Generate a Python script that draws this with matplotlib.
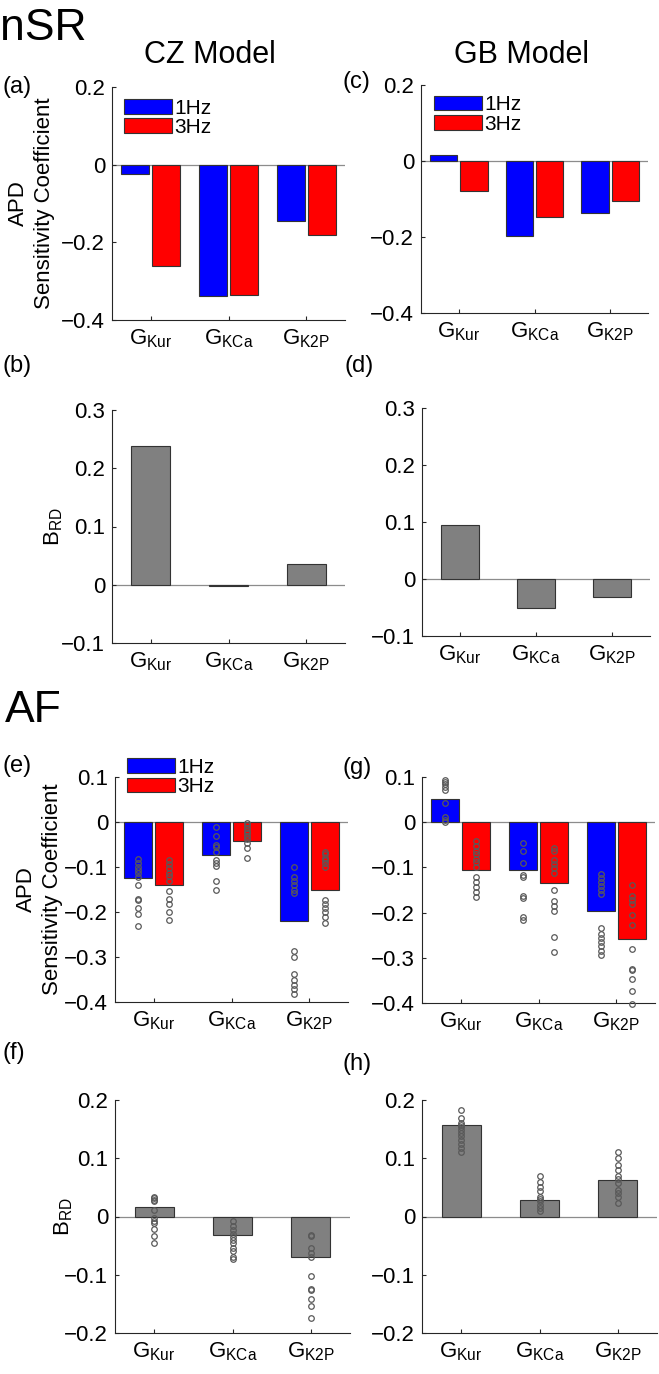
import numpy as np
import matplotlib
matplotlib.use('Agg')
import matplotlib.pyplot as plt

plt.rcParams['font.family'] = ['Liberation Sans', 'DejaVu Sans']
plt.rcParams['mathtext.fontset'] = 'custom'
plt.rcParams['mathtext.rm'] = 'Liberation Sans'
plt.rcParams['mathtext.it'] = 'Liberation Sans:italic'
plt.rcParams['axes.unicode_minus'] = True

# 数据
categories = [r'$\mathregular{G_{Kur}}$', r'$\mathregular{G_{KCa}}$', r'$\mathregular{G_{K2P}}$']
freq_labels = ['1Hz', '3Hz']

# nSR
nsr_cz_1hz = [-0.024, -0.337, -0.144]
nsr_cz_3hz = [-0.262, -0.335, -0.182]
nsr_gb_1hz = [0.016, -0.198, -0.138]
nsr_gb_3hz = [-0.079, -0.148, -0.106]
nsr_cz_brd = [0.238, -0.003, 0.035]
nsr_gb_brd = [0.094, -0.051, -0.031]

# AF (均值)
af_cz_1hz = [-0.125, -0.074, -0.219]
af_cz_3hz = [-0.141, -0.043, -0.151]
af_gb_1hz = [0.051, -0.106, -0.197]
af_gb_3hz = [-0.105, -0.134, -0.259]
af_cz_brd = [0.016, -0.032, -0.070]
af_gb_brd = [0.157, 0.029, 0.063]

# AF (个体点)
af_cz_1hz_pts = [
    [-0.083, -0.090, -0.099, -0.107, -0.114, -0.123, -0.139, -0.171, -0.174, -0.190, -0.205, -0.230],
    [-0.011, -0.031, -0.050, -0.056, -0.067, -0.085, -0.091, -0.098, -0.132, -0.150],
    [-0.100, -0.122, -0.130, -0.141, -0.150, -0.158, -0.287, -0.300, -0.338, -0.350, -0.362, -0.372, -0.383],
]
af_cz_3hz_pts = [
    [-0.084, -0.094, -0.102, -0.113, -0.121, -0.130, -0.153, -0.170, -0.182, -0.200, -0.218],
    [-0.002, -0.007, -0.013, -0.019, -0.024, -0.030, -0.037, -0.046, -0.058, -0.079],
    [-0.066, -0.072, -0.079, -0.084, -0.092, -0.099, -0.173, -0.183, -0.192, -0.201, -0.212, -0.224],
]
af_gb_1hz_pts = [
    [0.094, 0.089, 0.084, 0.078, 0.072, 0.042, 0.011, 0.005, 0.001],
    [-0.047, -0.064, -0.091, -0.116, -0.122, -0.163, -0.167, -0.210, -0.217],
    [-0.115, -0.124, -0.133, -0.142, -0.150, -0.159, -0.235, -0.247, -0.256, -0.265, -0.274, -0.284, -0.293],
]
af_gb_3hz_pts = [
    [-0.041, -0.052, -0.063, -0.070, -0.081, -0.089, -0.100, -0.122, -0.133, -0.143, -0.154, -0.165],
    [-0.056, -0.063, -0.084, -0.093, -0.101, -0.113, -0.150, -0.174, -0.185, -0.196, -0.254, -0.287],
    [-0.139, -0.163, -0.173, -0.181, -0.206, -0.228, -0.280, -0.324, -0.327, -0.347, -0.374, -0.402],
]
af_cz_brd_pts = [
    [0.034, 0.031, 0.029, 0.026, 0.011, -0.003, -0.007, -0.011, -0.022, -0.033, -0.046],
    [-0.007, -0.016, -0.023, -0.030, -0.035, -0.040, -0.045, -0.054, -0.059, -0.069, -0.073],
    [-0.031, -0.034, -0.054, -0.063, -0.070, -0.102, -0.125, -0.127, -0.142, -0.154, -0.174],
]
af_gb_brd_pts = [
    [0.182, 0.169, 0.161, 0.157, 0.153, 0.149, 0.144, 0.138, 0.131, 0.124, 0.117, 0.110],
    [0.070, 0.060, 0.051, 0.043, 0.034, 0.030, 0.026, 0.020, 0.014, 0.010],
    [0.110, 0.100, 0.089, 0.079, 0.069, 0.065, 0.057, 0.046, 0.040, 0.033, 0.024],
]

# 刻度
apd_nsr_ticks = [-0.4, -0.2, 0, 0.2]
apd_nsr_ticklabels = ['\u22120.4', '\u22120.2', '0', '0.2']
brd_nsr_ticks = [-0.1, 0, 0.1, 0.2, 0.3]
brd_nsr_ticklabels = ['\u22120.1', '0', '0.1', '0.2', '0.3']
apd_af_ticks = [-0.4, -0.3, -0.2, -0.1, 0, 0.1]
apd_af_ticklabels = ['\u22120.4', '\u22120.3', '\u22120.2', '\u22120.1', '0', '0.1']
brd_af_ticks = [-0.2, -0.1, 0, 0.1, 0.2]
brd_af_ticklabels = ['\u22120.2', '\u22120.1', '0', '0.1', '0.2']

W, H = 659, 1374
fig = plt.figure(figsize=(W / 100, H / 100), dpi=100)


def add_ax(l, r, t, b):
    return fig.add_axes([l / W, 1 - b / H, (r - l) / W, (b - t) / H])


def style(ax, ylim, ticks, ticklabels):
    ax.set_xlim(0.5, 3.5)
    ax.set_ylim(*ylim)
    for s in ['top', 'right']:
        ax.spines[s].set_visible(False)
    for s in ['left', 'bottom']:
        ax.spines[s].set_color('0.15')
        ax.spines[s].set_linewidth(0.8)
    ax.set_xticks([1, 2, 3])
    ax.set_xticklabels(categories)
    ax.set_yticks(ticks)
    ax.set_yticklabels(ticklabels)
    ax.tick_params(direction='in', length=3, width=0.8, colors='0.15',
                   labelsize=16, labelcolor='black', pad=5)
    ax.axhline(0, color='0.55', lw=0.9, zorder=1)


def pts(ax, xs, groups):
    for x, g in zip(xs, groups):
        ax.plot([x] * len(g), g, 'o', mfc='none', mec='0.35', ms=4, mew=0.9,
                zorder=3, clip_on=False)


x = np.arange(1, 4)
bw = 0.36
off = 0.2
bar_kw = dict(edgecolor='0.2', linewidth=0.8, zorder=2)
leg_kw = dict(loc='upper left', frameon=False, fontsize=15, borderpad=0,
              borderaxespad=0, handlelength=2.3, handleheight=0.7,
              handletextpad=0.1, labelspacing=0.02)

# (a)
ax = add_ax(112, 345, 87, 320)
b1 = ax.bar(x - off, nsr_cz_1hz, bw, color='blue', **bar_kw)
b2 = ax.bar(x + off, nsr_cz_3hz, bw, color='red', **bar_kw)
style(ax, (-0.4, 0.2), apd_nsr_ticks, apd_nsr_ticklabels)
ax.legend([b1, b2], freq_labels, bbox_to_anchor=(0.052, 0.95), **leg_kw)
ax.set_ylabel('APD\nSensitivity Coefficient', fontsize=16, linespacing=1.3)
ax.yaxis.set_label_coords(-0.245, 0.5)

# (c)
ax = add_ax(421, 648, 85, 313)
b1 = ax.bar(x - off, nsr_gb_1hz, bw, color='blue', **bar_kw)
b2 = ax.bar(x + off, nsr_gb_3hz, bw, color='red', **bar_kw)
style(ax, (-0.4, 0.2), apd_nsr_ticks, apd_nsr_ticklabels)
ax.legend([b1, b2], freq_labels, bbox_to_anchor=(0.057, 0.955), **leg_kw)

# (b)
ax = add_ax(112, 345, 410, 643)
ax.bar(x, nsr_cz_brd, 0.5, color='0.5', **bar_kw)
style(ax, (-0.1, 0.3), brd_nsr_ticks, brd_nsr_ticklabels)
ax.set_ylabel(r'$\mathregular{B_{RD}}$', fontsize=16)
ax.yaxis.set_label_coords(-0.2, 0.5)

# (d)
ax = add_ax(422, 650, 408, 636)
ax.bar(x, nsr_gb_brd, 0.5, color='0.5', **bar_kw)
style(ax, (-0.1, 0.3), brd_nsr_ticks, brd_nsr_ticklabels)

# (e)
ax = add_ax(115, 348, 777, 1002)
b1 = ax.bar(x - off, af_cz_1hz, bw, color='blue', **bar_kw)
b2 = ax.bar(x + off, af_cz_3hz, bw, color='red', **bar_kw)
pts(ax, x - off, af_cz_1hz_pts)
pts(ax, x + off, af_cz_3hz_pts)
style(ax, (-0.4, 0.1), apd_af_ticks, apd_af_ticklabels)
ax.legend([b1, b2], freq_labels, bbox_to_anchor=(0.052, 1.085), **leg_kw)
ax.set_ylabel('APD\nSensitivity Coefficient', fontsize=16, linespacing=1.3)
ax.yaxis.set_label_coords(-0.225, 0.5)

# (g)
ax = add_ax(422, 655, 777, 1003)
ax.bar(x - off, af_gb_1hz, bw, color='blue', **bar_kw)
ax.bar(x + off, af_gb_3hz, bw, color='red', **bar_kw)
pts(ax, x - off, af_gb_1hz_pts)
pts(ax, x + off, af_gb_3hz_pts)
style(ax, (-0.4, 0.1), apd_af_ticks, apd_af_ticklabels)

# (f)
ax = add_ax(115, 350, 1100, 1333)
ax.bar(x, af_cz_brd, 0.5, color='0.5', **bar_kw)
pts(ax, x, af_cz_brd_pts)
style(ax, (-0.2, 0.2), brd_af_ticks, brd_af_ticklabels)
ax.set_ylabel(r'$\mathregular{B_{RD}}$', fontsize=16)
ax.yaxis.set_label_coords(-0.17, 0.5)

# (h)
ax = add_ax(422, 657, 1100, 1333)
ax.bar(x, af_gb_brd, 0.5, color='0.5', **bar_kw)
pts(ax, x, af_gb_brd_pts)
style(ax, (-0.2, 0.2), brd_af_ticks, brd_af_ticklabels)

# 文字
fig.text(0 / W, 1 - 40 / H, 'nSR', fontsize=32, va='baseline', ha='left')
fig.text(5 / W, 1 - 722 / H, 'AF', fontsize=32, va='baseline', ha='left')
fig.text(210 / W, 1 - 63 / H, 'CZ Model', fontsize=22, va='baseline', ha='center')
fig.text(521 / W, 1 - 63 / H, 'GB Model', fontsize=22, va='baseline', ha='center')

panel_labels = [('(a)', 2, 87), ('(c)', 342, 82), ('(b)', 2, 366), ('(d)', 344, 366),
                ('(e)', 2, 766), ('(g)', 342, 768), ('(f)', 2, 1053), ('(h)', 343, 1064)]
for lab, px, py in panel_labels:
    fig.text(px / W, 1 - py / H, lab, fontsize=17, va='center', ha='left')

fig.savefig('out.png', dpi=100)
